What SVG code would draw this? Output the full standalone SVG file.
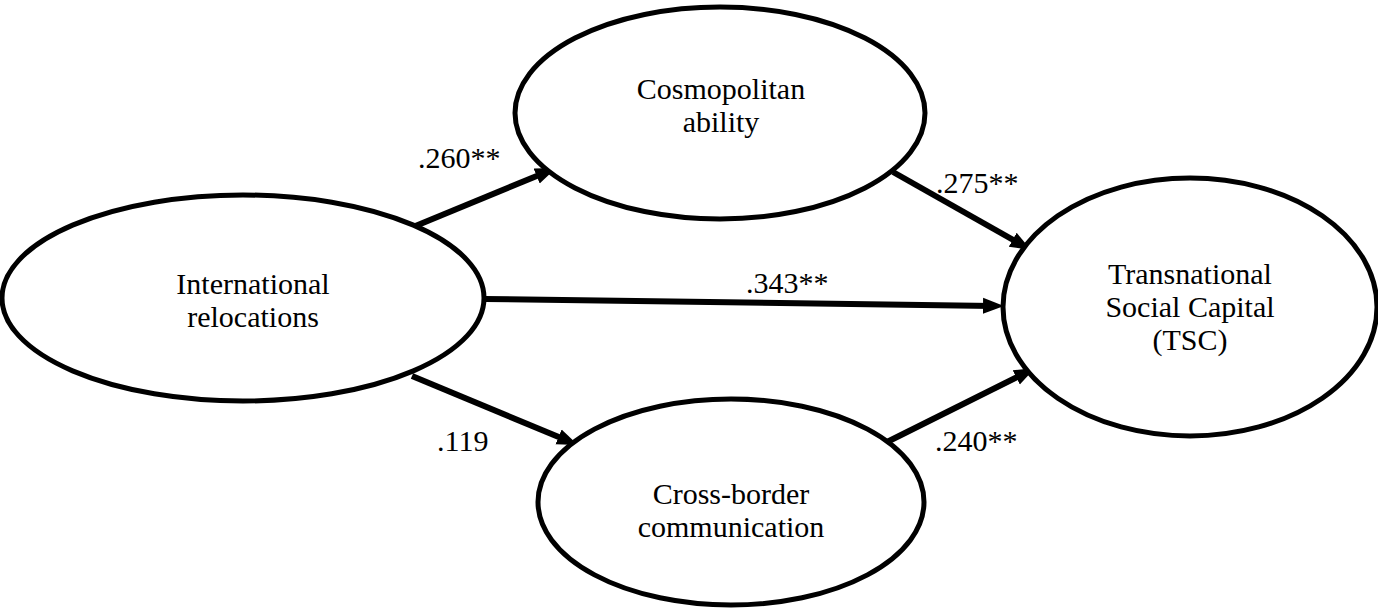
<svg xmlns="http://www.w3.org/2000/svg" width="1378" height="609" viewBox="0 0 1378 609">
<defs>
<style>
.node ellipse{fill:#fff;stroke:#000;stroke-width:5}
text{font-family:"Liberation Serif","Times New Roman",serif;font-size:30px;fill:#000}
.lbl{text-anchor:middle}
.edge{stroke:#000;stroke-width:6;fill:none}
</style>
<marker id="ah" markerUnits="userSpaceOnUse" markerWidth="22" markerHeight="18" refX="10" refY="9" orient="auto" viewBox="0 0 22 18">
<path d="M0,1 L21,9 L0,17 z" fill="#000"/>
</marker>
</defs>
<rect width="1378" height="609" fill="#fff"/>
<g id="connectors">
<line class="edge" x1="413" y1="227" x2="545.9" y2="172.2" marker-end="url(#ah)"/>
<line class="edge" x1="893" y1="172" x2="1021.4" y2="244.6" marker-end="url(#ah)"/>
<line class="edge" x1="485" y1="299" x2="993" y2="305.9" marker-end="url(#ah)"/>
<line class="edge" x1="412" y1="376" x2="567.8" y2="440.8" marker-end="url(#ah)"/>
<line class="edge" x1="887" y1="442" x2="1025.2" y2="373" marker-end="url(#ah)"/>
<text x="418" y="168">.260**</text>
<text x="936" y="193">.275**</text>
<text x="746" y="293">.343**</text>
<text x="437" y="451">.119</text>
<text x="935" y="451">.240**</text>
</g>
<g id="node-international" class="node">
<ellipse cx="243" cy="298" rx="241" ry="103"/>
<text class="lbl" x="253" y="294">International</text>
<text class="lbl" x="253" y="327">relocations</text>
</g>
<g id="node-cosmopolitan" class="node">
<ellipse cx="720" cy="113" rx="205" ry="106"/>
<text class="lbl" x="721" y="99">Cosmopolitan</text>
<text class="lbl" x="721" y="132">ability</text>
</g>
<g id="node-tsc" class="node">
<ellipse cx="1190" cy="307" rx="187" ry="129"/>
<text class="lbl" x="1190" y="284">Transnational</text>
<text class="lbl" x="1190" y="317">Social Capital</text>
<text class="lbl" x="1190" y="350">(TSC)</text>
</g>
<g id="node-crossborder" class="node">
<ellipse cx="731" cy="502" rx="193" ry="103"/>
<text class="lbl" x="731" y="504">Cross-border</text>
<text class="lbl" x="731" y="537">communication</text>
</g>
</svg>
